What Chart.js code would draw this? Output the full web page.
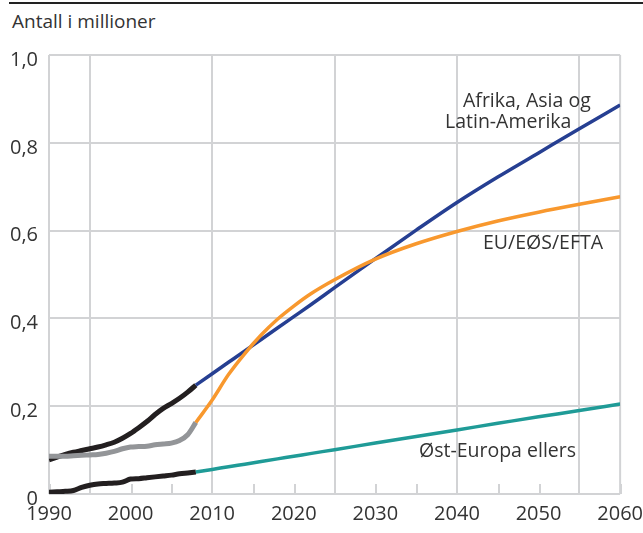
<!DOCTYPE html>
<html>
<head>
<meta charset="utf-8">
<script src="https://cdn.jsdelivr.net/npm/chart.js@4.4.1/dist/chart.umd.min.js"></script>
<style>
body{margin:0;background:#fff;overflow:hidden;font-family:"Open Sans",sans-serif;color:#333;}
#topline{position:absolute;left:9px;right:0;top:2px;height:2px;background:#222;}
#title{position:absolute;left:12px;top:8px;font-size:19px;}
#wrap{position:absolute;left:-10px;top:0;width:661px;height:533px;}
.lbl{position:absolute;font-size:19.5px;line-height:21px;white-space:nowrap;}
</style>
</head>
<body>
<div id="topline"></div>
<div id="title">Antall i millioner</div>
<div id="wrap"><canvas id="chart"></canvas></div>
<div class="lbl" style="left:463px;top:89px;">Afrika, Asia og</div>
<div class="lbl" style="left:445px;top:110px;">Latin-Amerika</div>
<div class="lbl" style="left:483px;top:231px;">EU/EØS/EFTA</div>
<div class="lbl" style="left:419px;top:439px;">Øst-Europa ellers</div>
<script>

let histYears=[1990,1991,1992,1993,1994,1995,1996,1997,1998,1999,2000,2001,2002,2003,2004,2005,2006,2007,2008];
let afrikaHist=[0.078,0.084,0.090,0.095,0.099,0.103,0.107,0.112,0.118,0.127,0.138,0.151,0.165,0.181,0.195,0.206,0.218,0.232,0.248];
let euHist=[0.086,0.086,0.086,0.087,0.088,0.089,0.090,0.093,0.097,0.103,0.107,0.108,0.109,0.112,0.114,0.116,0.122,0.135,0.163];
let ostHist=[0.004,0.005,0.006,0.008,0.015,0.020,0.023,0.024,0.025,0.027,0.034,0.035,0.037,0.039,0.041,0.043,0.046,0.048,0.050];

let projYears=[2008,2010,2012,2014,2016,2018,2020,2022,2025,2030,2035,2040,2045,2050,2055,2060];
let afrikaProj=[0.248,0.274,0.300,0.326,0.352,0.378,0.404,0.430,0.470,0.536,0.601,0.664,0.722,0.777,0.832,0.886];
let euProj=[0.163,0.214,0.272,0.320,0.362,0.398,0.428,0.455,0.488,0.535,0.570,0.598,0.622,0.642,0.660,0.677];
let ostProj=[0.050,0.056,0.062,0.068,0.074,0.080,0.086,0.092,0.101,0.116,0.131,0.146,0.161,0.176,0.190,0.205];

let xTicks=[1990,2000,2010,2020,2030,2040,2050,2060];
let gridYears=[1995,2010,2025,2040,2055];
let minorYears=[1990,2000,2005,2015,2020,2030,2035,2045,2050,2060];
let yTicks=[0,0.2,0.4,0.6,0.8,1.0];

function pts(xs,ys){
return xs.map((x,i)=>({x:x,y:ys[i]}));
}

let gridCol="#d2d3d5";

let framePlugin={
id:"frame",
beforeDatasetsDraw(chart){
let ctx=chart.ctx;
let a=chart.chartArea;
let x=chart.scales.x, y=chart.scales.y;
ctx.save();
ctx.strokeStyle=gridCol;
ctx.lineWidth=2;
ctx.beginPath();
yTicks.forEach(v=>{
let py=Math.round(y.getPixelForValue(v));
ctx.moveTo(a.left,py);ctx.lineTo(a.right,py);
});
gridYears.forEach(v=>{
let px=Math.round(x.getPixelForValue(v));
ctx.moveTo(px,a.top);ctx.lineTo(px,a.bottom);
});
minorYears.forEach(v=>{
let px=Math.round(x.getPixelForValue(v))+1;
ctx.moveTo(px,a.bottom);ctx.lineTo(px,a.bottom-10);
});
ctx.moveTo(a.left,a.top);ctx.lineTo(a.left,a.bottom);
ctx.moveTo(a.right,a.top);ctx.lineTo(a.right,a.bottom);
ctx.stroke();
ctx.restore();
}
};

function line(data,color,width){
return {data:data,borderColor:color,borderWidth:width,pointRadius:0,fill:false,
cubicInterpolationMode:"monotone",borderCapStyle:"butt",borderJoinStyle:"round"};
}

new Chart(document.getElementById("chart"),{
type:"line",
data:{
datasets:[
line(pts(projYears,ostProj),"#1f9b97",3.5),
line(pts(projYears,euProj),"#f8982e",3.5),
line(pts(projYears,afrikaProj),"#263f92",3.5),
line(pts(histYears,ostHist),"#231f20",5),
line(pts(histYears,euHist),"#939598",5),
line(pts(histYears,afrikaHist),"#231f20",5)
]
},
options:{
responsive:true,
maintainAspectRatio:false,
animation:false,
events:[],
layout:{padding:{top:55,right:0,left:0,bottom:0}},
plugins:{legend:{display:false},tooltip:{enabled:false}},
scales:{
x:{
type:"linear",min:1990,max:2060,
afterBuildTicks:s=>{s.ticks=xTicks.map(v=>({value:v}));},
afterFit:s=>{s.height=39;},
grid:{display:false,drawTicks:false},
border:{display:false},
ticks:{font:{family:"Open Sans",size:20},color:"#333",padding:8,maxRotation:0,autoSkip:false,
callback:v=>String(v)}
},
y:{
min:0,max:1,
afterBuildTicks:s=>{s.ticks=yTicks.map(v=>({value:v}));},
afterFit:s=>{s.width=59;},
grid:{display:false,drawTicks:false},
border:{display:false},
ticks:{font:{family:"Open Sans",size:20},color:"#333",padding:11,labelOffset:5,
callback:v=>v===0?"0":v.toFixed(1).replace(".",",")}
}
}
},
plugins:[framePlugin]
});

</script>
</body>
</html>
